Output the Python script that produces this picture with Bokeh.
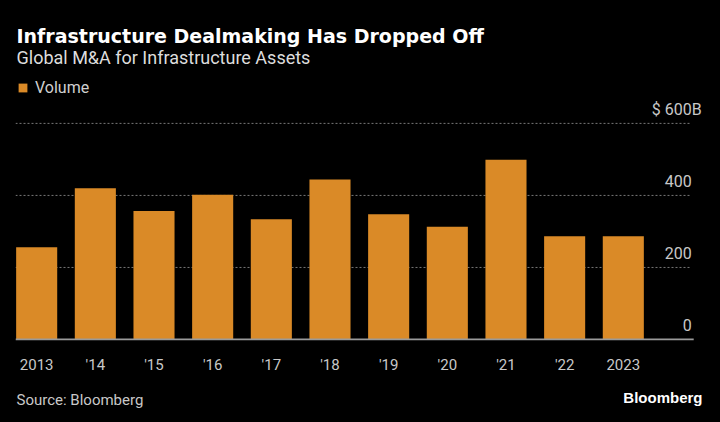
from bokeh.plotting import figure
from bokeh.layouts import column
from bokeh.models import (ColumnDataSource, Range1d, FixedTicker,
                          Legend, LegendItem)
from bokeh.core.properties import value
from bokeh.embed import file_html
from bokeh.resources import INLINE

# ---- data ----
years = ["2013", "'14", "'15", "'16", "'17", "'18", "'19", "'20", "'21", "'22", "2023"]
volume = [256, 420, 357, 402, 334, 444, 348, 313, 499, 287, 287]  # $B
y_ticks = [0, 200, 400, 600]
y_tick_labels = ["0", "200", "400", "$ 600B"]
grid_ticks = [200, 400, 600]
title_text = "Infrastructure Dealmaking Has Dropped Off"
subtitle_text = "Global M&A for Infrastructure Assets"
source_text = "Source: Bloomberg"
brand_text = "Bloomberg"

# ---- style ----
BG = "#000000"
BAR = "#DA8A27"
FONT = "Roboto"
W = 720
X_LO, X_HI = -0.361, 11.384
GRID_END = 11.146
BASE_END = 11.2
LABEL_X = 11.166


def text_strip(height):
    f = figure(width=W, height=height, output_backend="svg", toolbar_location=None,
               x_range=Range1d(0, W), y_range=Range1d(height, 0),
               x_axis_location=None, y_axis_location=None,
               background_fill_color=BG, border_fill_color=BG,
               outline_line_color=None, min_border=0)
    f.frame_align = False
    f.xgrid.visible = False
    f.ygrid.visible = False
    return f


# header
head = text_strip(75)
head.text(x=[16], y=[35], text=[title_text], text_align="left",
          text_baseline="middle", text_font=value("DejaVu Sans"),
          text_font_style="bold", text_font_size="19px", text_color="#ffffff")
head.text(x=[16], y=[57], text=[subtitle_text], text_align="left",
          text_baseline="middle", text_font=value(FONT),
          text_font_size="18px", text_color="#dddddd")

# main chart
xs = list(range(len(years)))
src = ColumnDataSource(dict(x=xs, top=volume, year=years))

p = figure(width=W, height=305, output_backend="svg", toolbar_location=None,
           x_range=Range1d(X_LO, X_HI), y_range=Range1d(-2.8, 733),
           y_axis_location=None,
           background_fill_color=BG, border_fill_color=BG,
           outline_line_color=BG, outline_line_width=2,
           min_border_left=15, min_border_right=16, min_border_top=0,
           min_border_bottom=40)
p.frame_align = False
p.xgrid.visible = False
p.ygrid.visible = False

gsrc = ColumnDataSource(dict(y=grid_ticks, x0=[X_LO] * len(grid_ticks),
                             x1=[GRID_END] * len(grid_ticks)))
p.segment(x0="x0", x1="x1", y0="y", y1="y", source=gsrc,
          line_color="#777777", line_dash="2 2", line_width=1)

bars = p.vbar(x="x", top="top", bottom=0, width=0.70, source=src,
              fill_color=BAR, line_color=None)

p.segment(x0=[X_LO], x1=[BASE_END], y0=[0], y1=[0],
          line_color="#9a9a9a", line_width=2)

lsrc = ColumnDataSource(dict(y=y_ticks, text=y_tick_labels,
                             x=[LABEL_X] * len(y_ticks),
                             xo=[0, 0, 0, 10]))
p.text(x="x", y="y", text="text", source=lsrc, x_offset="xo", y_offset=-14,
       text_align="right", text_baseline="alphabetic",
       text_font=value(FONT), text_font_size="16px", text_color="#c8c8c8")

ax = p.xaxis[0]
ax.ticker = FixedTicker(ticks=xs)
ax.major_label_overrides = {i: y for i, y in zip(xs, years)}
ax.axis_line_color = None
ax.major_tick_line_color = None
ax.minor_tick_line_color = None
ax.major_label_standoff = 9
ax.major_label_text_font = FONT
ax.major_label_text_font_size = "15px"
ax.major_label_text_color = "#c8c8c8"

legend = Legend(items=[LegendItem(label="Volume", renderers=[bars])],
                location="top_left", margin=2, padding=0,
                glyph_width=11, glyph_height=11, label_standoff=7,
                label_height=21, border_line_color=None,
                background_fill_alpha=0, label_text_color="#d0d0d0",
                label_text_font=FONT, label_text_font_size="16px")
p.add_layout(legend)

# footer
foot = text_strip(42)
foot.text(x=[16], y=[19], text=[source_text], text_align="left",
          text_baseline="middle", text_font=value(FONT), text_font_size="15px",
          text_color="#c8c8c8")
foot.text(x=[702], y=[17], text=[brand_text], text_align="right",
          text_baseline="middle", text_font=value("Liberation Sans"),
          text_font_style="bold", text_font_size="15px", text_color="#ffffff")

layout = column(head, p, foot, spacing=0, styles={"background-color": BG})
open("out.html", "w").write(file_html(layout, INLINE))
